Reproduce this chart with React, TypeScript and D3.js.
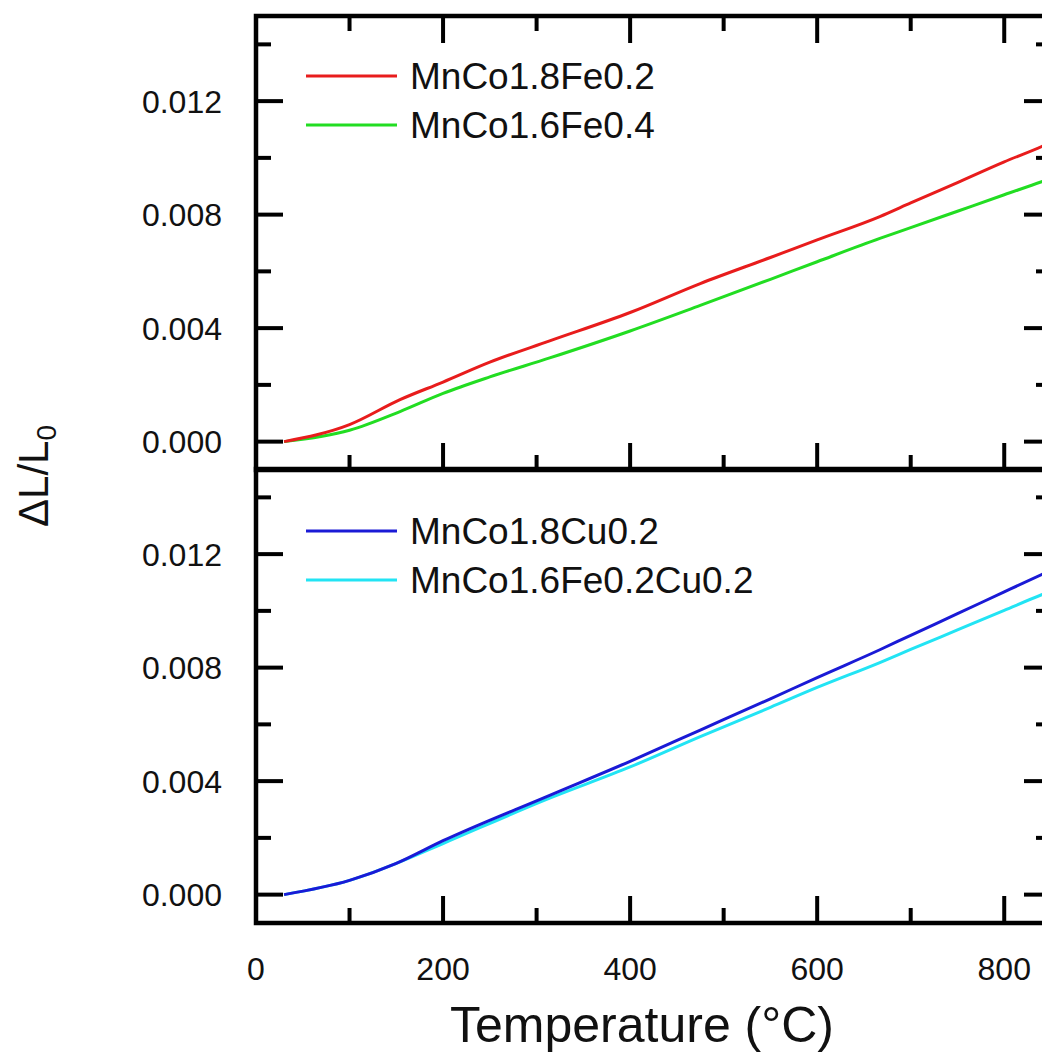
import React from "react";
import * as d3 from "d3";

const tempTop = [30, 100, 154, 200, 250, 314, 400, 475, 550, 600, 667, 700, 750, 800, 840, 850];
const redVals = [0, 0.0006, 0.00148, 0.0021, 0.0028, 0.00355, 0.00455, 0.00557, 0.00649, 0.00711, 0.00793, 0.00841, 0.00913, 0.00986, 0.0104, 0.01055];
const greenVals = [0, 0.0004, 0.00106, 0.0017, 0.00228, 0.00295, 0.0039, 0.0048, 0.00572, 0.00634, 0.00716, 0.00754, 0.00812, 0.0087, 0.00916, 0.00928];

const tempBot = [30, 100, 150, 200, 314, 400, 475, 550, 600, 667, 700, 750, 800, 840, 850];
const blueVals = [0, 0.0005, 0.0011, 0.0019, 0.0035, 0.0047, 0.0058, 0.0069, 0.00765, 0.00863, 0.00914, 0.0099, 0.01067, 0.01128, 0.01143];
const cyanVals = [0, 0.0005, 0.0011, 0.0018, 0.0034, 0.0045, 0.00557, 0.0066, 0.0073, 0.00818, 0.00864, 0.00933, 0.01002, 0.01057, 0.0107];

const xMajor = [0, 200, 400, 600, 800];
const xMinor = [100, 300, 500, 700];
const yMajor = [0, 0.004, 0.008, 0.012];
const yMinor = [0.002, 0.006, 0.01, 0.014];

const topLegend = ["MnCo1.8Fe0.2", "MnCo1.6Fe0.4"];
const botLegend = ["MnCo1.8Cu0.2", "MnCo1.6Fe0.2Cu0.2"];
const topColors = ["#e81c1c", "#22dd22"];
const botColors = ["#1a1ad6", "#22e4f4"];

const FONT = "Arial, 'Liberation Sans', sans-serif";

export default function App() {
  const x = d3.scaleLinear().domain([0, 850]).range([256, 1051]);
  const yTop = d3.scaleLinear().domain([-0.001, 0.015]).range([470, 16]);
  const yBot = d3.scaleLinear().domain([-0.001, 0.015]).range([923, 469]);
  const L = 27, l = 15, sw = 4;

  const panel = (y: d3.ScaleLinear<number, number>, topTicks: boolean, key: string) => {
    const [y0, y1] = y.range();
    const xl = x.range()[0], xr = x.range()[1];
    const els: React.ReactNode[] = [];
    yMajor.forEach((v, i) => {
      els.push(<line key={key + "ym" + i} x1={xl} x2={xl + L} y1={y(v)} y2={y(v)} stroke="#000" strokeWidth={sw} />);
      els.push(<line key={key + "ymr" + i} x1={xr} x2={xr - L} y1={y(v)} y2={y(v)} stroke="#000" strokeWidth={sw} />);
      els.push(
        <text key={key + "yl" + i} x={222} y={y(v)} dy="0.36em" textAnchor="end" fontSize={32} fontFamily={FONT} fill="#111">
          {d3.format(".3f")(v)}
        </text>
      );
    });
    yMinor.forEach((v, i) => {
      els.push(<line key={key + "yn" + i} x1={xl} x2={xl + l} y1={y(v)} y2={y(v)} stroke="#000" strokeWidth={sw} />);
      els.push(<line key={key + "ynr" + i} x1={xr} x2={xr - l} y1={y(v)} y2={y(v)} stroke="#000" strokeWidth={sw} />);
    });
    xMajor.slice(1).forEach((v, i) => {
      els.push(<line key={key + "xm" + i} x1={x(v)} x2={x(v)} y1={y0} y2={y0 - L} stroke="#000" strokeWidth={sw} />);
      if (topTicks) els.push(<line key={key + "xmt" + i} x1={x(v)} x2={x(v)} y1={y1} y2={y1 + L} stroke="#000" strokeWidth={sw} />);
    });
    xMinor.forEach((v, i) => {
      els.push(<line key={key + "xn" + i} x1={x(v)} x2={x(v)} y1={y0} y2={y0 - l} stroke="#000" strokeWidth={sw} />);
      if (topTicks) els.push(<line key={key + "xnt" + i} x1={x(v)} x2={x(v)} y1={y1} y2={y1 + l} stroke="#000" strokeWidth={sw} />);
    });
    els.push(<rect key={key + "frame"} x={xl} y={y1} width={xr - xl} height={y0 - y1} fill="none" stroke="#000" strokeWidth={4.5} />);
    return els;
  };

  const mk = (ts: number[], vs: number[], y: d3.ScaleLinear<number, number>) =>
    d3.line<number>().x((_, i) => x(ts[i])).y((d) => y(d)).curve(d3.curveMonotoneX)(vs) || "";

  return (
    <svg width={1042} height={1057} style={{ position: "absolute", left: 0, top: 0, background: "#fff" }}>
      <rect x={0} y={0} width={1042} height={1057} fill="#fff" />
      <path d={mk(tempTop, greenVals, yTop)} fill="none" stroke={topColors[1]} strokeWidth={3} />
      <path d={mk(tempTop, redVals, yTop)} fill="none" stroke={topColors[0]} strokeWidth={3} />
      <path d={mk(tempBot, cyanVals, yBot)} fill="none" stroke={botColors[1]} strokeWidth={3} />
      <path d={mk(tempBot, blueVals, yBot)} fill="none" stroke={botColors[0]} strokeWidth={3} />
      {panel(yTop, true, "t")}
      {panel(yBot, false, "b")}
      {topLegend.map((name, i) => (
        <g key={"tl" + i}>
          <line x1={306} x2={397} y1={76 + i * 49} y2={76 + i * 49} stroke={topColors[i]} strokeWidth={3} />
          <text x={410} y={89 + i * 49} fontSize={37} fontFamily={FONT} fill="#111">{name}</text>
        </g>
      ))}
      {botLegend.map((name, i) => (
        <g key={"bl" + i}>
          <line x1={306} x2={397} y1={531 + i * 49} y2={531 + i * 49} stroke={botColors[i]} strokeWidth={3} />
          <text x={410} y={544 + i * 49} fontSize={37} fontFamily={FONT} fill="#111">{name}</text>
        </g>
      ))}
      {xMajor.map((v, i) => (
        <text key={"xl" + i} x={x(v)} y={980} textAnchor="middle" fontSize={32} fontFamily={FONT} fill="#111">{v}</text>
      ))}
      <text x={642} y={1042} textAnchor="middle" fontSize={50} fontFamily={FONT} fill="#111">Temperature (°C)</text>
      <text transform="translate(48,476) rotate(-90)" textAnchor="middle" fontSize={42} fontFamily={FONT} fill="#111">
        ΔL/L<tspan fontSize={28} dy={8}>0</tspan>
      </text>
    </svg>
  );
}
